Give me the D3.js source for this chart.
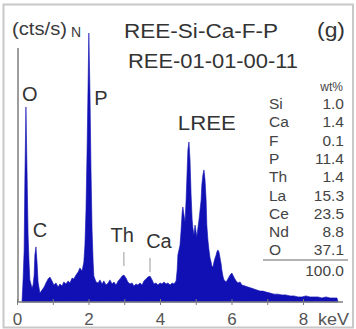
<!DOCTYPE html>
<html>
<head>
<meta charset="utf-8">
<script src="https://cdn.jsdelivr.net/npm/d3@7"></script>
<style>
  body { margin: 0; background: #fff; }
  svg { display: block; font-family: "Liberation Sans", Arial, sans-serif; }
</style>
</head>
<body>
<div id="chart"></div>
<script>
// EDS spectrum: energy (keV) and normalised counts
const energy = [0.14,0.17,0.20,0.22,0.25,0.28,0.31,0.34,0.36,0.42,0.45,0.48,0.50,0.53,0.56,0.59,0.64,0.70,0.76,0.81,
  0.87,0.92,0.98,1.03,1.09,1.15,1.20,1.26,1.31,1.37,1.43,1.48,1.54,1.59,1.65,1.71,1.76,1.82,1.87,1.90,
  1.93,1.96,1.99,2.01,2.04,2.07,2.10,2.13,2.15,2.21,2.27,2.32,2.38,2.43,2.49,2.55,2.60,2.66,2.71,2.77,
  2.83,2.88,2.94,2.99,3.05,3.10,3.16,3.22,3.27,3.33,3.38,3.44,3.50,3.55,3.61,3.66,3.72,3.78,3.83,3.89,
  3.94,4.00,4.06,4.11,4.17,4.22,4.28,4.34,4.39,4.45,4.48,4.50,4.53,4.56,4.59,4.62,4.64,4.67,4.70,4.73,
  4.76,4.78,4.81,4.84,4.87,4.90,4.92,4.95,4.98,5.01,5.03,5.06,5.09,5.12,5.15,5.17,5.20,5.23,5.26,5.29,
  5.31,5.34,5.37,5.40,5.43,5.45,5.48,5.51,5.54,5.57,5.59,5.62,5.65,5.68,5.71,5.73,5.76,5.79,5.85,5.90,
  5.96,6.01,6.08,6.13,6.18,6.24,6.29,6.38,6.46,6.55,6.63,6.71,6.80,6.88,6.97,7.08,7.19,7.30,7.41,7.52,
  7.64,7.75,7.86,7.97,8.08,8.20,8.31,8.42,8.53,8.64,8.76,8.87,8.95,8.98];
const counts = [0,8.7,20.5,48.0,76.8,52.0,26.4,14.6,8.7,5.5,6.7,10.6,18.5,21.7,15.7,7.9,3.5,4.7,5.9,7.5,
  9.1,9.8,8.3,6.7,7.5,5.9,7.1,6.3,7.9,7.1,8.3,7.5,9.4,9.1,10.6,11.8,13.4,12.2,15.7,22.4,
  36.2,59.8,87.4,105.9,83.5,52.0,28.3,15.7,10.2,7.9,7.5,8.7,7.1,8.3,6.7,7.5,8.7,7.1,7.9,6.7,
  8.3,9.1,10.2,10.6,9.4,7.9,7.1,7.5,6.3,7.1,6.7,7.5,6.7,8.3,9.1,9.8,10.2,8.7,7.1,7.5,
  6.7,7.5,7.1,7.9,7.1,7.5,6.7,7.5,7.1,8.3,12.6,18.5,20.5,22.4,28.3,35.4,37.4,34.3,31.5,40.2,
  52.0,59.8,63.0,55.9,42.1,32.3,29.1,26.4,30.3,27.6,25.6,29.1,32.3,36.2,40.2,46.1,50.0,52.0,48.0,40.2,
  30.3,24.4,20.5,17.3,15.7,14.2,13.8,15.7,17.3,18.5,19.7,20.5,19.7,17.3,15.0,12.6,10.2,8.7,7.9,9.1,
  10.6,11.4,9.4,8.3,7.5,7.9,6.7,6.3,5.9,5.5,5.1,4.7,4.3,4.3,3.9,3.5,3.1,3.1,2.8,2.8,
  2.4,2.4,2.0,2.0,2.4,2.0,2.0,2.0,1.6,2.0,1.6,1.6,1.6,0];

const xTickValues = [0,1,2,3,4,5,6,7,8];
const xTickLabels = ["0","","2","","4","","6","","8"];

// peak labels: text, keV of label centre, label height (counts), optional leader line
const peakNames  = ["O", "C", "P", "Th", "Ca", "LREE"];
const peakKeV    = [0.36, 0.64, 2.35, 2.94, 3.97, 5.31];
const peakLevel  = [79, 25.6, 77.5, 23.6, 21.3, 67.7];
const leaderKeV  = [null, null, null, 2.99, 3.72, null];

const elements = ["Si","Ca","F","P","Th","La","Ce","Nd","O"];
const wtPct    = ["1.0","1.4","0.1","11.4","1.4","15.3","23.5","8.8","37.1"];
const total    = "100.0";

const W = 356, H = 329;
const svg = d3.select("#chart").append("svg")
  .attr("width", W).attr("height", H)
  .attr("viewBox", `0 0 ${W} ${H}`);

// outer frame
svg.append("rect")
  .attr("x", 3.5).attr("y", 4.5).attr("width", 349.5).attr("height", 323)
  .attr("fill", "none").attr("stroke", "#c8c8c8").attr("stroke-width", 2);

const x = d3.scaleLinear().domain([0, 8]).range([17, 303]);
const y = d3.scaleLinear().domain([0, 100]).range([302, 48]);

const spectrum = energy.map((e, i) => ({ e, c: counts[i] }));

const area = d3.area()
  .x(d => x(d.e))
  .y0(y(0))
  .y1(d => y(d.c));

svg.append("path")
  .datum(spectrum)
  .attr("d", area)
  .attr("fill", "#1010b4")
  .attr("stroke", "#1010b4")
  .attr("stroke-width", 0.6);

// axes
const axisColor = "#7d7d7d";
svg.append("line")
  .attr("x1", x(0) + 1).attr("x2", 343)
  .attr("y1", y(0)).attr("y2", y(0))
  .attr("stroke", axisColor).attr("stroke-width", 1.5);
svg.append("line")
  .attr("x1", x(0) + 1).attr("x2", x(0) + 1)
  .attr("y1", y(0)).attr("y2", y(100))
  .attr("stroke", axisColor).attr("stroke-width", 1.5);

const xAxis = svg.append("g")
  .attr("transform", `translate(0,${y(0)})`)
  .call(d3.axisBottom(x).tickValues(xTickValues).tickFormat((d, i) => xTickLabels[i]).tickSize(3));
xAxis.select(".domain").remove();
xAxis.selectAll(".tick line").attr("y1", -3).attr("y2", 3).attr("stroke", axisColor);
xAxis.selectAll(".tick text")
  .attr("y", 22.5).attr("dy", null)
  .attr("fill", "#555").attr("font-size", 17)
  .attr("font-family", "Liberation Sans, Arial, sans-serif");

svg.append("text")
  .attr("x", 318).attr("y", y(0) + 22.5)
  .attr("font-size", 17).attr("fill", "#555")
  .attr("textLength", 31).attr("lengthAdjust", "spacingAndGlyphs")
  .text("keV");

// y unit
svg.append("text")
  .attr("x", 12).attr("y", 35)
  .attr("font-size", 19).attr("fill", "#3a3a3a")
  .attr("textLength", 55).attr("lengthAdjust", "spacingAndGlyphs")
  .text("(cts/s)");
svg.append("text")
  .attr("x", 71).attr("y", 37)
  .attr("font-size", 14).attr("fill", "#3a3a3a")
  .text("N");

// titles
svg.append("text")
  .attr("x", 124).attr("y", 38)
  .attr("font-size", 20).attr("fill", "#333")
  .attr("textLength", 154).attr("lengthAdjust", "spacingAndGlyphs")
  .text("REE-Si-Ca-F-P");
svg.append("text")
  .attr("x", 317).attr("y", 37)
  .attr("font-size", 20).attr("fill", "#333")
  .attr("textLength", 28).attr("lengthAdjust", "spacingAndGlyphs")
  .text("(g)");
svg.append("text")
  .attr("x", 128).attr("y", 68)
  .attr("font-size", 20).attr("fill", "#333")
  .attr("textLength", 170).attr("lengthAdjust", "spacingAndGlyphs")
  .text("REE-01-01-00-11");

// peak labels
peakNames.forEach((name, i) => {
  const t = svg.append("text")
    .attr("x", x(peakKeV[i])).attr("y", y(peakLevel[i]))
    .attr("text-anchor", "middle")
    .attr("font-size", 20).attr("fill", "#333")
    .text(name);
  if (name === "LREE") t.attr("textLength", 58).attr("lengthAdjust", "spacingAndGlyphs");
  if (leaderKeV[i] !== null) {
    svg.append("line")
      .attr("x1", x(leaderKeV[i])).attr("x2", x(leaderKeV[i]))
      .attr("y1", y(peakLevel[i]) + 10).attr("y2", y(peakLevel[i]) + 24)
      .attr("stroke", "#999").attr("stroke-width", 1);
  }
});

// composition table
const tab = svg.append("g").attr("fill", "#444").attr("font-size", 15.5);
tab.append("text")
  .attr("x", 343).attr("y", 91).attr("text-anchor", "end")
  .attr("font-size", 12).text("wt%");
elements.forEach((el, i) => {
  const by = 109 + i * 18.3;
  tab.append("text").attr("x", 269).attr("y", by).text(el);
  tab.append("text").attr("x", 344).attr("y", by).attr("text-anchor", "end").text(wtPct[i]);
});
tab.append("line")
  .attr("x1", 263).attr("x2", 348).attr("y1", 260).attr("y2", 260)
  .attr("stroke", "#666").attr("stroke-width", 1);
tab.append("text")
  .attr("x", 344).attr("y", 276).attr("text-anchor", "end").text(total);
</script>
</body>
</html>
